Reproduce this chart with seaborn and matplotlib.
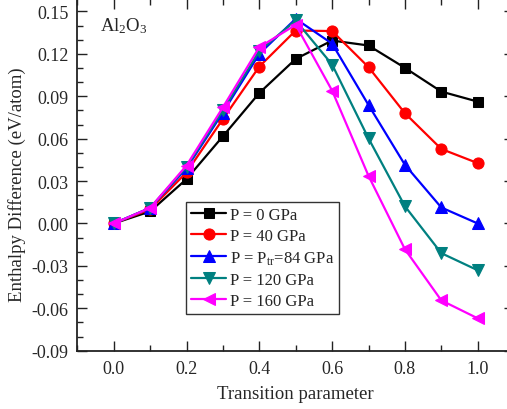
import numpy as np
import pandas as pd
import matplotlib
matplotlib.use("Agg")
import matplotlib.pyplot as plt
import seaborn as sns
from matplotlib.ticker import MultipleLocator

# Transition parameter (path coordinate between the two structures)
transition = [0.0, 0.1, 0.2, 0.3, 0.4, 0.5, 0.6, 0.7, 0.8, 0.9, 1.0]

# Enthalpy difference along the path (eV/atom) at each pressure
h_0gpa   = [0.0, 0.0085, 0.0314, 0.0617, 0.0923, 0.1164, 0.1294, 0.1259, 0.1101, 0.0933, 0.0862]
h_40gpa  = [0.0, 0.0100, 0.0361, 0.0739, 0.1110, 0.1365, 0.1361, 0.1106, 0.0780, 0.0527, 0.0427]
h_84gpa  = [0.0, 0.0110, 0.0390, 0.0785, 0.1200, 0.1448, 0.1272, 0.0838, 0.0415, 0.0113, 0.0000]
h_120gpa = [0.0, 0.0110, 0.0400, 0.0800, 0.1220, 0.1436, 0.1124, 0.0602, 0.0122, -0.0210, -0.0331]
h_160gpa = [0.0, 0.0110, 0.0410, 0.0822, 0.1247, 0.1405, 0.0940, 0.0337, -0.0182, -0.0544, -0.0671]

labels  = ["P = 0 GPa", "P = 40 GPa", r"P = P$_{\mathrm{tr}}$=84 GPa", "P = 120 GPa", "P = 160 GPa"]
colors  = ["#000000", "#FF0000", "#0000FF", "#008080", "#FF00FF"]
markers = ["s", "o", "^", "v", "<"]
msizes  = [7, 8, 8.5, 8.5, 8.5]

series = [h_0gpa, h_40gpa, h_84gpa, h_120gpa, h_160gpa]
df = pd.concat(
    [pd.DataFrame({"Transition parameter": transition, "H": vals, "Pressure": lab})
     for vals, lab in zip(series, labels)],
    ignore_index=True,
)

sns.set_style("ticks")
plt.rcParams["font.family"] = ["Liberation Serif", "DejaVu Serif"]
plt.rcParams["mathtext.fontset"] = "custom"
plt.rcParams["mathtext.rm"] = "Liberation Serif"
plt.rcParams["mathtext.it"] = "Liberation Serif:italic"
plt.rcParams["mathtext.bf"] = "Liberation Serif:bold"

fig = plt.figure(figsize=(5.07, 4.10), dpi=100)
ax = fig.add_axes([0.1525, 0.1422, 0.8615, 0.8568])

for lab, col, mk, ms in zip(labels, colors, markers, msizes):
    sns.lineplot(
        data=df[df["Pressure"] == lab], x="Transition parameter", y="H",
        ax=ax, color=col, marker=mk, markersize=ms, markeredgecolor=col,
        linewidth=1.6, label=lab, sort=False,
    )

ax.set_xlim(-0.1, 1.1)
ax.set_ylim(-0.09, 0.1585)
xt = np.round(np.arange(0.0, 1.01, 0.2), 1)
yt = np.round(np.arange(-0.09, 0.151, 0.03), 2)
ax.set_xticks(xt)
ax.set_xticklabels([f"{v:.1f}" for v in xt])
ax.set_yticks(yt)
ax.set_yticklabels([f"{v:.2f}" if v != 0 else "0.00" for v in yt])
ax.xaxis.set_minor_locator(MultipleLocator(0.1))
ax.yaxis.set_minor_locator(MultipleLocator(0.01))

ax.tick_params(which="both", direction="in", top=True, right=True, width=1.0,
               color="#222222", labelsize=13, pad=6.5)
ax.tick_params(which="major", length=7)
ax.tick_params(which="minor", length=4)
for sp in ax.spines.values():
    sp.set_linewidth(1.3)
    sp.set_color("#222222")

ax.set_xlabel("Transition parameter", fontsize=13.5)
ax.set_ylabel("Enthalpy Difference (eV/atom)", fontsize=13.5)
ax.xaxis.set_label_coords(0.5, -0.097)
ax.yaxis.set_label_coords(-0.118, 0.4745)

ax.text(0.053, 0.911, r"Al$_2$O$_3$", transform=ax.transAxes, fontsize=13.5,
        ha="left", va="baseline")

leg = ax.legend(loc="upper left", bbox_to_anchor=(0.2498, 0.4224), borderaxespad=0,
                fontsize=12, frameon=True, fancybox=False, handlelength=2.1,
                handletextpad=0.2, labelspacing=0.3, borderpad=0.3)
leg.get_frame().set_edgecolor("#000000")
leg.get_frame().set_linewidth(1.0)

fig.savefig("out.png", dpi=100)
